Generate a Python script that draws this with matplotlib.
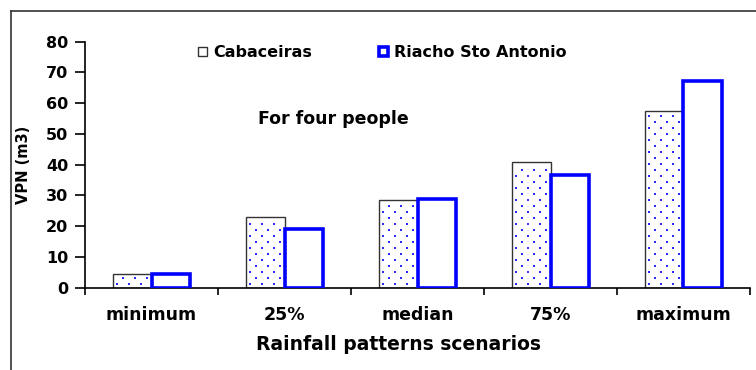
import matplotlib
matplotlib.use("Agg")
import matplotlib.pyplot as plt
from matplotlib.lines import Line2D
import numpy as np

plt.rcParams['font.family'] = ['DejaVu Sans']
plt.rcParams['font.weight'] = 'bold'

categories = ["minimum", "25%", "median", "75%", "maximum"]
cabaceiras = [4.6, 23.0, 28.5, 40.8, 57.4]
riacho = [4.5, 19.0, 28.8, 36.7, 67.2]
series_names = ["Cabaceiras", "Riacho Sto Antonio"]
yticks = [0, 10, 20, 30, 40, 50, 60, 70, 80]

W, H = 756, 370
fig = plt.figure(figsize=(W / 100, H / 100), dpi=100)
ax = fig.add_axes([85 / W, 1 - 287.7 / H, (750 - 85) / W, (287.7 - 41.7) / H])

x = np.arange(len(categories))
bw = 0.29
ax.set_xlim(-0.5, len(categories) - 0.5)
ax.set_ylim(0, 80)

b1 = ax.bar(x - bw / 2, cabaceiras, bw, facecolor="white", edgecolor="#333333",
            linewidth=1.0, zorder=2)
b2 = ax.bar(x + bw / 2, riacho, bw, facecolor="white", edgecolor="#0000ff",
            linewidth=2.6, zorder=3)

# dotted fill texture: staggered lattice, 12 px across, 6 px between rows
fig.canvas.draw()
to_disp = ax.transData
to_data = ax.transData.inverted()
for p in b1:
    (x0, y0), (x1, y1) = to_disp.transform([(p.get_x(), 0), (p.get_x() + p.get_width(), p.get_height())])
    pts = []
    row = 0
    yy = y0 + 4
    while yy < y1 - 2:
        start = x0 + 4 + (6 if row % 2 else 0)
        xx = start
        while xx < x1 - 2:
            pts.append((xx, yy))
            xx += 12
        yy += 6
        row += 1
    if pts:
        d = to_data.transform(np.array(pts))
        sc = ax.scatter(d[:, 0], d[:, 1], s=1.2, marker="s", color="#2a2aff",
                        linewidths=0, zorder=2.5)
        sc.set_clip_path(p)

ax.set_yticks(yticks)
ax.set_yticklabels([str(t) for t in yticks], fontsize=11.5, fontweight="bold")
ax.tick_params(axis="y", length=7, width=1.2, pad=5)

ax.set_xticks(np.arange(-0.5, len(categories), 1.0))
ax.set_xticklabels([])
ax.set_xticks(x, minor=True)
ax.set_xticklabels(categories, minor=True, fontsize=12.5, fontweight="bold")
ax.tick_params(axis="x", which="major", length=5, width=1.2)
ax.tick_params(axis="x", which="minor", length=0, pad=13)

for s in ["top", "right"]:
    ax.spines[s].set_visible(False)
ax.spines["left"].set_linewidth(1.2)
ax.spines["bottom"].set_linewidth(1.2)

ax.set_xlabel("Rainfall patterns scenarios", fontsize=13.5, fontweight="bold")
ax.xaxis.set_label_coords((398 - 85) / (750 - 85), -(345 - 287.7) / (287.7 - 41.7))
ax.xaxis.label.set_va("center")
ax.set_ylabel("VPN (m3)", fontsize=10.5, fontweight="bold", labelpad=11)

ax.text(0.8, 55.0, "For four people", fontsize=12.5, fontweight="bold", ha="left", va="center")

leg = ax.legend([b1[0], b2[0]], series_names, ncol=2, frameon=False,
                loc="center left", bbox_to_anchor=(0.148, 0.955),
                handlelength=0.55, handleheight=0.55, handletextpad=0.4,
                columnspacing=4.2, prop={"size": 11.5, "weight": "bold"})

# outer frame lines
fig.add_artist(Line2D([11 / W, 1.0], [1 - 11 / H, 1 - 11 / H], color="#333333", lw=1.2))
fig.add_artist(Line2D([11 / W, 11 / W], [0, 1 - 11 / H], color="#333333", lw=1.2))

fig.savefig("out.png", dpi=100)
